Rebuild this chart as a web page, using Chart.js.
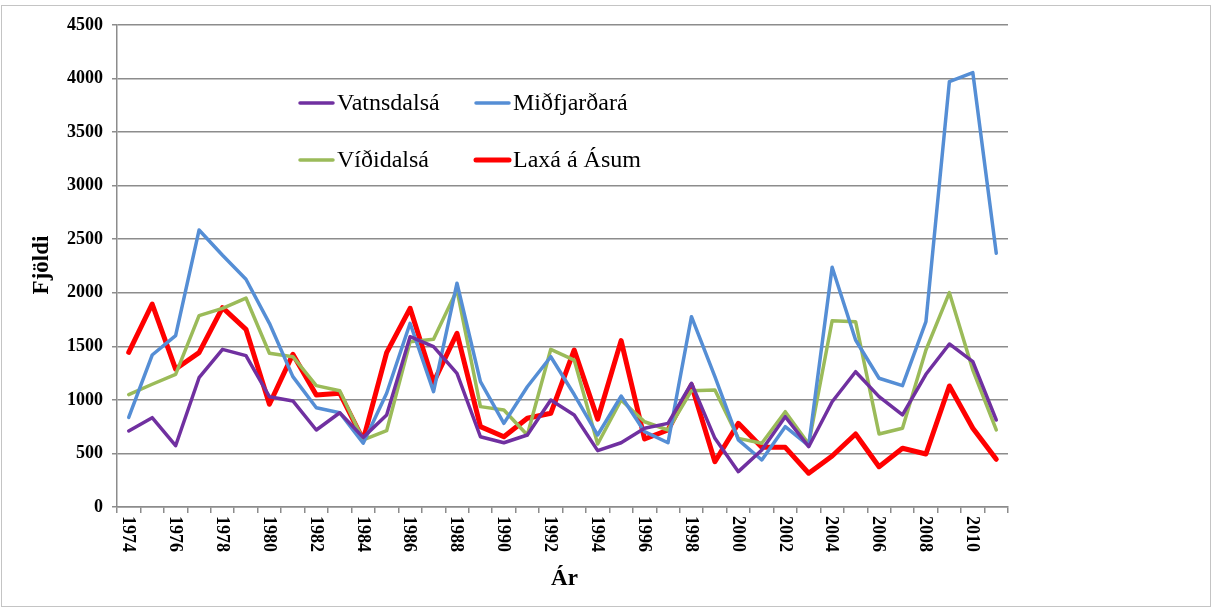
<!DOCTYPE html>
<html>
<head>
<meta charset="utf-8">
<script src="https://cdn.jsdelivr.net/npm/chart.js@4/dist/chart.umd.min.js"></script>
<style>
  html, body { margin: 0; padding: 0; background: #fff; }
  #wrap { position: relative; width: 1215px; height: 610px; }
  canvas { display: block; }
</style>
</head>
<body>
<div id="wrap"><canvas id="c" width="1215" height="610"></canvas></div>
<script>
const years = ['1974','1975','1976','1977','1978','1979','1980','1981','1982','1983',
  '1984','1985','1986','1987','1988','1989','1990','1991','1992','1993',
  '1994','1995','1996','1997','1998','1999','2000','2001','2002','2003',
  '2004','2005','2006','2007','2008','2009','2010','2011'];
const xTickLabels = ['1974','1976','1978','1980','1982','1984','1986','1988','1990','1992',
  '1994','1996','1998','2000','2002','2004','2006','2008','2010'];
const seriesNames = ['Vatnsdalsá','Miðfjarðará','Víðidalsá','Laxá á Ásum'];
const vatnsdalsa = [710, 834, 572, 1207, 1472, 1413, 1030, 990, 719, 880,
  650, 859, 1590, 1497, 1248, 656, 600, 672, 999, 859,
  526, 600, 735, 781, 1155, 641, 330, 532, 843, 563,
  983, 1263, 1030, 859, 1239, 1522, 1357, 812];
const midfjardara = [837, 1419, 1600, 2586, 2350, 2126, 1715, 1217, 927, 880,
  595, 1062, 1715, 1077, 2089, 1170, 781, 1123, 1403, 1050,
  672, 1036, 703, 600, 1777, 1217, 626, 439, 750, 572,
  2238, 1559, 1202, 1133, 1730, 3971, 4055, 2369];
const vidirdalsa = [1049, 1146, 1239, 1786, 1855, 1951, 1435, 1403, 1133, 1086,
  626, 712, 1543, 1566, 2026, 937, 906, 672, 1472, 1372,
  588, 999, 796, 719, 1086, 1092, 641, 595, 890, 588,
  1739, 1730, 682, 735, 1466, 2001, 1279, 719];
const laxa = [1444, 1895, 1288, 1441, 1861, 1659, 959, 1426, 1046, 1062,
  626, 1441, 1855, 1164, 1622, 750, 656, 828, 875, 1466,
  820, 1553, 635, 719, 1139, 423, 781, 557, 557, 315,
  476, 682, 376, 548, 495, 1130, 735, 445];
const yTicks = { min: 0, max: 4500, step: 500 };

const SERIF = '"Liberation Serif", "Times New Roman", serif';
const GRID = '#8c8c8c';

const decor = {
  id: 'decor',
  afterDraw(chart) {
    const ctx = chart.ctx;
    const xs = chart.scales.x;
    ctx.save();
    // outer border
    ctx.strokeStyle = '#c4c4c4';
    ctx.lineWidth = 1;
    ctx.strokeRect(1.5, 5.5, 1209, 601);
    // x tick labels, rotated clockwise
    ctx.fillStyle = '#000';
    ctx.font = 'bold 18px ' + SERIF;
    ctx.textAlign = 'left';
    ctx.textBaseline = 'middle';
    chart.data.labels.forEach((lab, i) => {
      if (!xTickLabels.includes(lab)) return;
      const x = xs.getPixelForTick(i);
      ctx.save();
      ctx.translate(x - 1, xs.top + 9);
      ctx.rotate(Math.PI / 2);
      ctx.fillText(lab, 0, 0);
      ctx.restore();
    });
    // axis titles
    ctx.font = 'bold 23px ' + SERIF;
    ctx.textAlign = 'center';
    ctx.textBaseline = 'middle';
    ctx.fillText('Ár', (xs.left + xs.right) / 2 + 2, 579);
    ctx.save();
    ctx.translate(42, 265);
    ctx.rotate(-Math.PI / 2);
    ctx.fillText('Fjöldi', 0, 0);
    ctx.restore();
    // legend
    const pos = [[300, 103], [476, 103], [300, 160], [476, 160]];
    ctx.font = '24px ' + SERIF;
    ctx.textAlign = 'left';
    chart.data.datasets.forEach((ds, i) => {
      const [lx, ly] = pos[i];
      ctx.strokeStyle = ds.borderColor;
      ctx.lineWidth = i === 3 ? 5 : 3.5;
      ctx.lineCap = 'round';
      ctx.beginPath();
      ctx.moveTo(lx, ly);
      ctx.lineTo(lx + 33, ly);
      ctx.stroke();
      ctx.fillStyle = '#000';
      ctx.fillText(ds.label, lx + 37, ly + 1);
    });
    ctx.restore();
  }
};

new Chart(document.getElementById('c'), {
  type: 'line',
  data: {
    labels: years,
    datasets: [
      { label: seriesNames[0], data: vatnsdalsa, borderColor: '#7030a0', borderWidth: 3.5 },
      { label: seriesNames[1], data: midfjardara, borderColor: '#558ed5', borderWidth: 3.5 },
      { label: seriesNames[2], data: vidirdalsa, borderColor: '#9bbb59', borderWidth: 3.5 },
      { label: seriesNames[3], data: laxa, borderColor: '#ff0000', borderWidth: 5 }
    ]
  },
  options: {
    responsive: false,
    animation: false,
    layout: { padding: { left: 0, right: 207, top: 25, bottom: 0 } },
    elements: { point: { radius: 0, hoverRadius: 0 }, line: { tension: 0, borderJoinStyle: 'round', borderCapStyle: 'round' } },
    plugins: { legend: { display: false }, tooltip: { enabled: false } },
    scales: {
      x: {
        offset: true,
        grid: { offset: true, drawOnChartArea: false, drawTicks: true, tickLength: 6, color: GRID, lineWidth: 1.5 },
        border: { color: GRID, width: 1.5 },
        ticks: { display: false, autoSkip: false },
        afterFit(s) { s.height = 103; }
      },
      y: {
        min: yTicks.min, max: yTicks.max,
        ticks: { stepSize: yTicks.step, color: '#000', padding: 9,
          font: { family: SERIF, size: 18, weight: 'bold' },
          callback: v => String(v) },
        grid: { color: GRID, lineWidth: 1.5, tickLength: 5 },
        border: { color: GRID, width: 1.5 },
        afterFit(s) { s.width = 117; }
      }
    }
  },
  plugins: [decor]
});
</script>
</body>
</html>
